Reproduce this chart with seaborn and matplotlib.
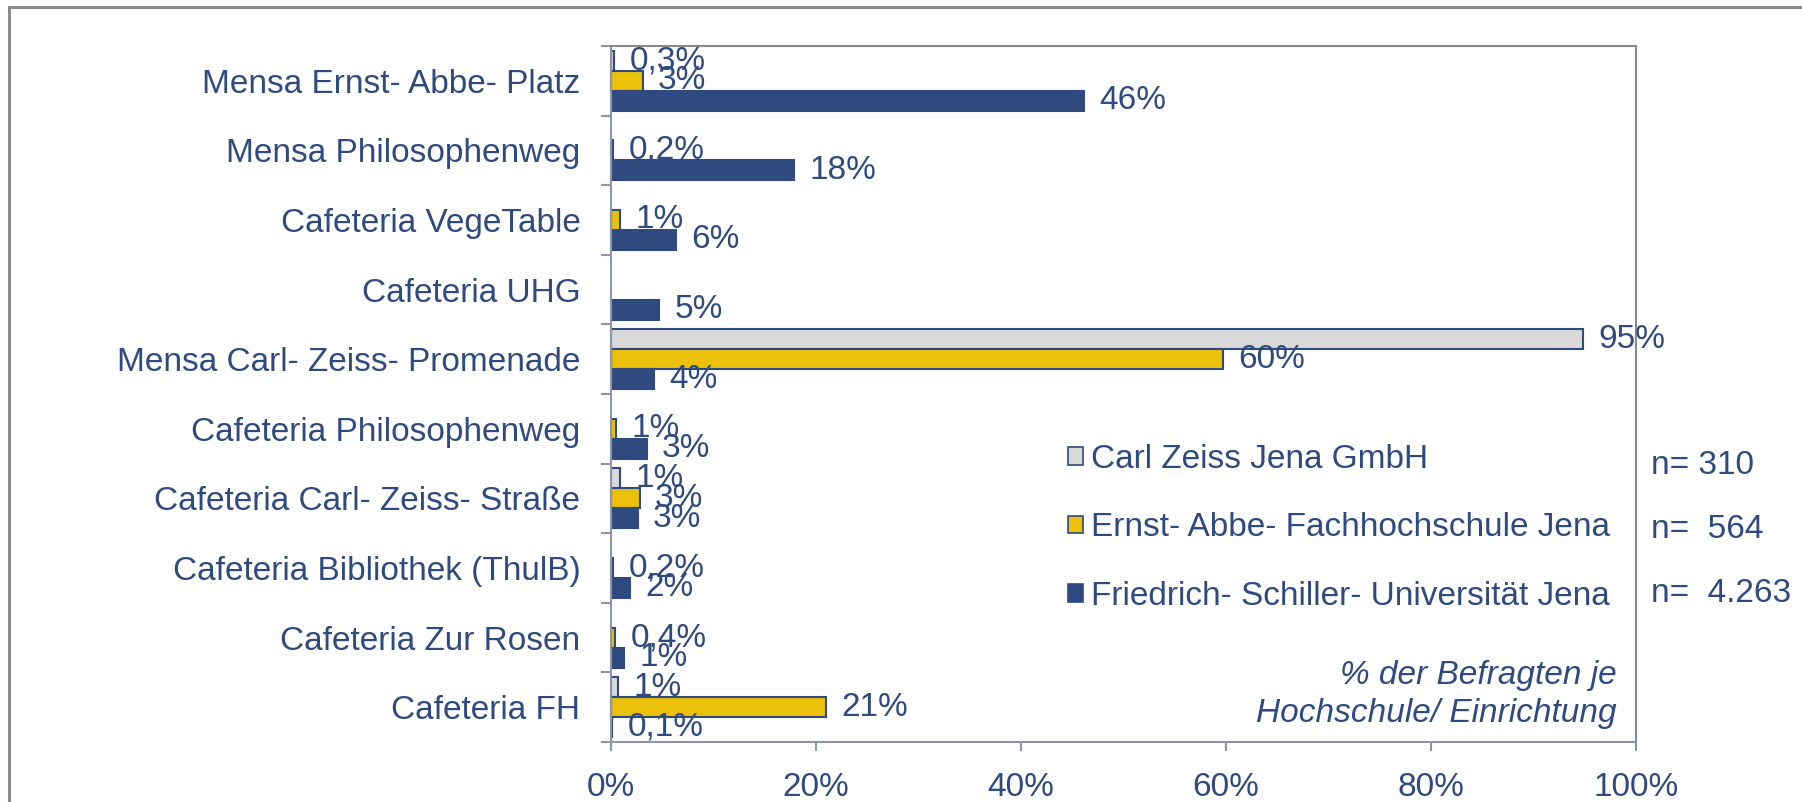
import pandas as pd
import matplotlib.pyplot as plt
import seaborn as sns
from matplotlib.patches import Patch, Rectangle
from matplotlib.ticker import FixedLocator

# Data (% of respondents per institution)
categories = [
    "Mensa Ernst- Abbe- Platz",
    "Mensa Philosophenweg",
    "Cafeteria VegeTable",
    "Cafeteria UHG",
    "Mensa Carl- Zeiss- Promenade",
    "Cafeteria Philosophenweg",
    "Cafeteria Carl- Zeiss- Straße",
    "Cafeteria Bibliothek (ThulB)",
    "Cafeteria Zur Rosen",
    "Cafeteria FH",
]
series = ["Carl Zeiss Jena GmbH",
          "Ernst- Abbe- Fachhochschule Jena",
          "Friedrich- Schiller- Universität Jena"]
sample_sizes = ["n= 310", "n=  564", "n=  4.263"]

zeiss = [0.3, 0, 0, 0, 94.8, 0, 0.9, 0, 0, 0.7]
eah = [3.1, 0.2, 0.9, 0, 59.7, 0.5, 2.8, 0.2, 0.4, 21.0]
fsu = [46.1, 17.9, 6.3, 4.7, 4.2, 3.5, 2.6, 1.9, 1.3, 0.1]

zeiss_labels = ["0,3%", "", "", "", "95%", "", "1%", "", "", "1%"]
eah_labels = ["3%", "0,2%", "1%", "", "60%", "1%", "3%", "0,2%", "0,4%", "21%"]
fsu_labels = ["46%", "18%", "6%", "5%", "4%", "3%", "3%", "2%", "1%", "0,1%"]

xticks = [0, 20, 40, 60, 80, 100]

navy = "#2F4A7E"
colors = {series[0]: "#D9D9D9", series[1]: "#EBC10C", series[2]: navy}
axis_grey = "#8E95AB"

df = pd.DataFrame({
    "category": categories * 3,
    "series": [s for s in series for _ in categories],
    "value": zeiss + eah + fsu,
})

sns.set_style("white")
plt.rcParams["font.family"] = ["Liberation Sans", "DejaVu Sans"]
fs = 24

fig = plt.figure(figsize=(18.02, 8.02), dpi=100)
ax = fig.add_axes([611 / 1802, 60 / 802, 1025 / 1802, 696 / 802])

sns.barplot(data=df, x="value", y="category", hue="series", hue_order=series,
            order=categories, palette=colors, orient="h", errorbar=None,
            width=0.86, saturation=1, edgecolor=navy, linewidth=1.5,
            legend=False, ax=ax)

for cont, labs in zip(ax.containers, [zeiss_labels, eah_labels, fsu_labels]):
    for bar in cont:
        if bar.get_width() == 0:
            bar.set_visible(False)
    ax.bar_label(cont, labels=labs, padding=11, fontsize=fs, color=navy)

ax.set_xlim(0, 100)
ax.set_ylim(len(categories) - 0.5, -0.5)
ax.set_xlabel("")
ax.set_ylabel("")
ax.set_xticks(xticks)
ax.set_xticklabels([f"{t}%" for t in xticks])
ax.tick_params(axis="x", length=6.5, width=1.5, color=axis_grey,
               labelsize=fs, labelcolor=navy, pad=15, bottom=True)
ax.tick_params(axis="y", which="major", length=0, labelsize=fs,
               labelcolor=navy, pad=22)
ax.yaxis.set_minor_locator(FixedLocator([i - 0.5 for i in range(len(categories) + 1)]))
ax.tick_params(axis="y", which="minor", length=7.2, width=1.5,
               color=axis_grey, left=True)

for side in ["left", "bottom"]:
    ax.spines[side].set_color(axis_grey)
    ax.spines[side].set_linewidth(1.5)
for side in ["top", "right"]:
    ax.spines[side].set_color("#8A8A8A")
    ax.spines[side].set_linewidth(1.5)

handles = [Patch(facecolor=colors[s], edgecolor=navy, linewidth=1.2) for s in series]
ax.legend(handles, series, loc="upper left",
          bbox_to_anchor=(1068 / 1802, 1 - 444 / 802),
          bbox_transform=fig.transFigure, frameon=False, fontsize=fs,
          labelcolor=navy, handlelength=0.45, handleheight=0.45,
          handletextpad=0.25, labelspacing=1.12, borderpad=0, borderaxespad=0)

for i, txt in enumerate(sample_sizes):
    fig.text(1651 / 1802, 1 - (466 + 64 * i) / 802, txt, fontsize=fs,
             color=navy, va="center", ha="left")

ax.text(0.981, 0.068, "% der Befragten je\nHochschule/ Einrichtung",
        transform=ax.transAxes, ha="right", va="center", fontsize=fs,
        style="italic", color=navy, linespacing=1.27)

# outer frame of the original slide
fig.patches.append(Rectangle((9 / 1802, -0.2), 1.5, 1.2 - 7 / 802,
                             transform=fig.transFigure, fill=False,
                             edgecolor="#8A8A8A", linewidth=2.2))

fig.savefig("out.png", dpi=100)
